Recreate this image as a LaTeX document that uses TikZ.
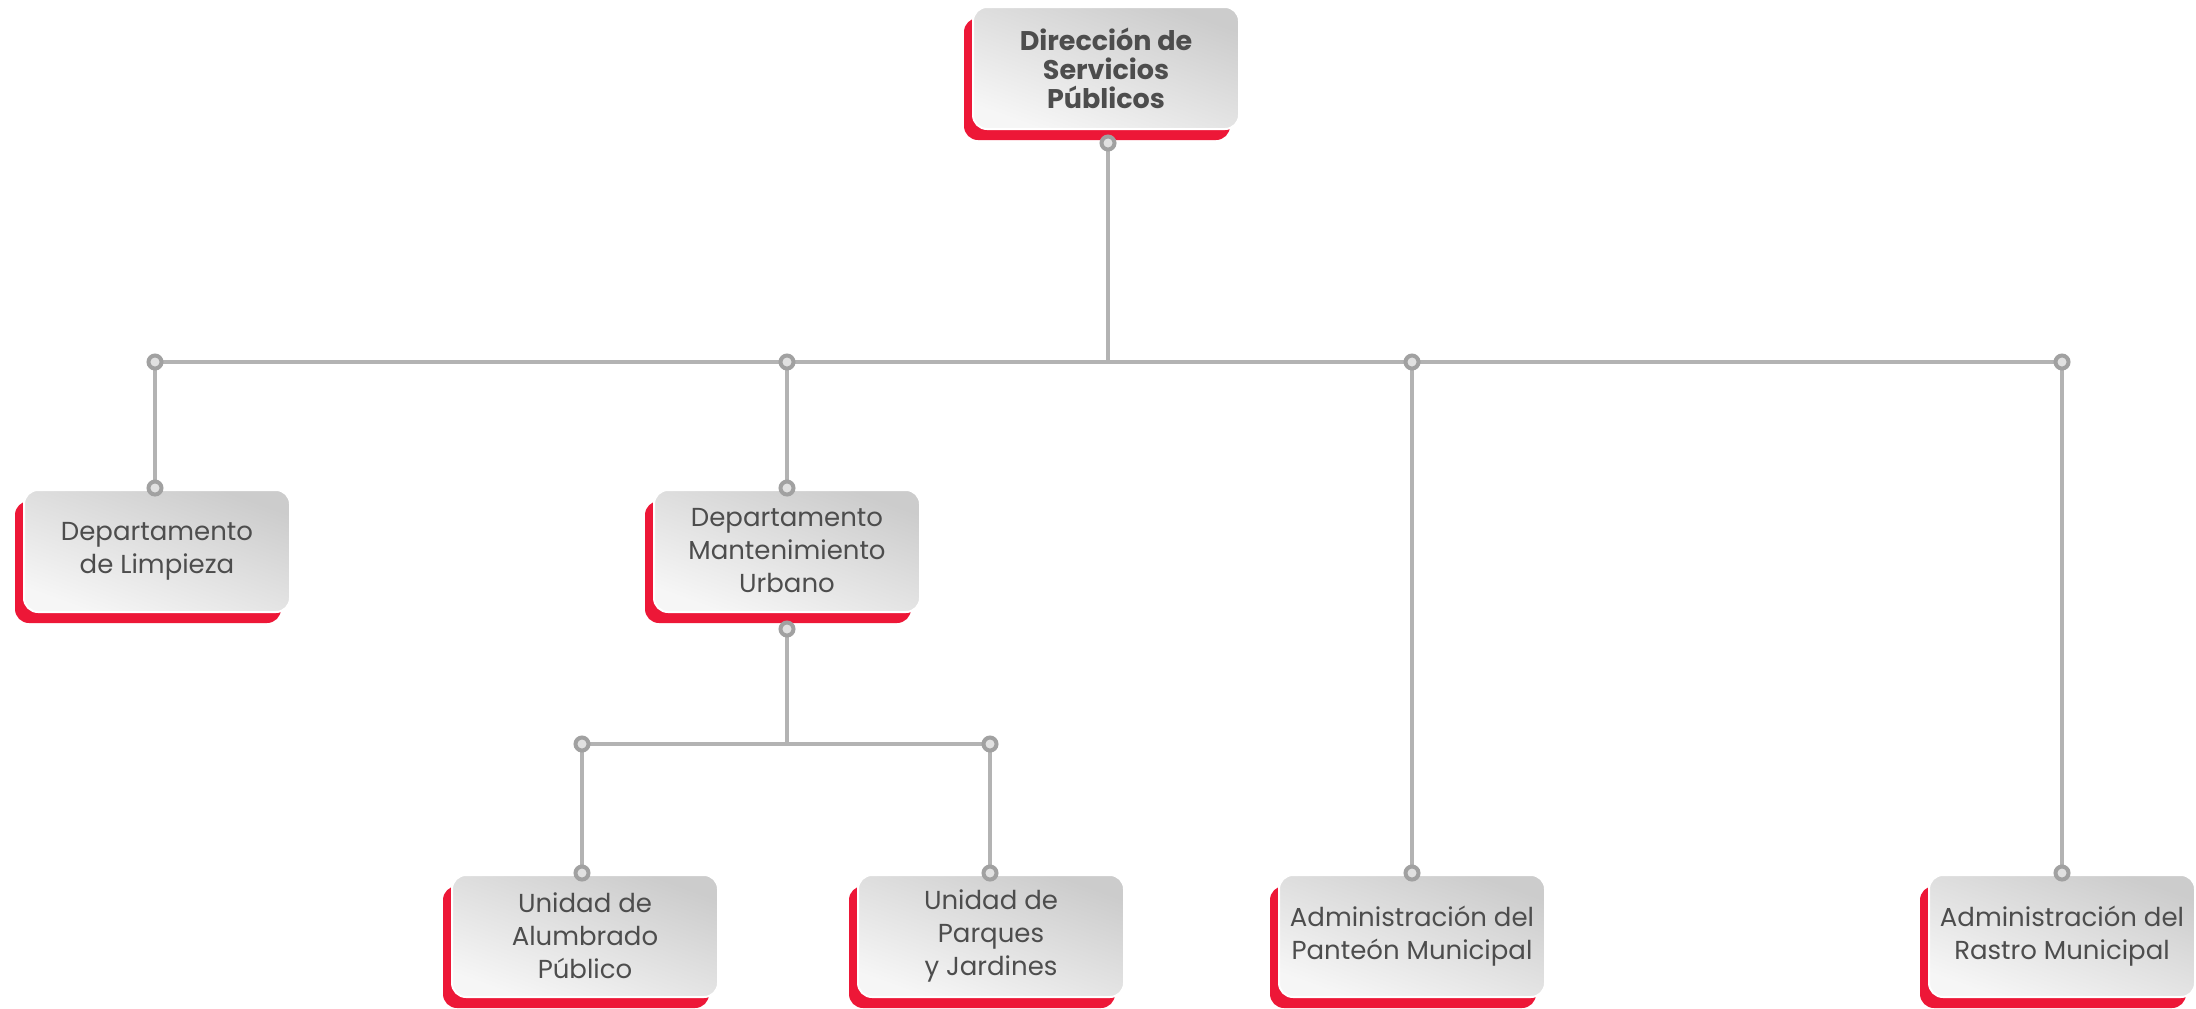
\documentclass[tikz,border=0pt]{standalone}
\usepackage{fontspec}
\setmainfont{Poppins}
\usepackage{tikz}
\usetikzlibrary{backgrounds,shadows}
\definecolor{rojo}{RGB}{237,23,55}
\definecolor{linea}{RGB}{179,179,179}
\definecolor{texto}{RGB}{77,77,77}
\definecolor{grisA}{RGB}{204,204,204}
\definecolor{grisB}{RGB}{246,246,246}

\tikzset{
unidad/.style={rectangle, rounded corners=7pt, minimum width=133pt, minimum height=61pt,
  top color=grisA, bottom color=grisB, shading angle=-20, draw=white, line width=1pt,
  general shadow={fill=rojo, shadow xshift=-4.5pt, shadow yshift=-5.5pt},
  align=center, text=texto, inner sep=0pt, font=\fontsize{13pt}{16.5pt}\selectfont},
jefe/.style={unidad, font=\fontsize{13.5pt}{14.5pt}\selectfont\bfseries},
union/.style={circle, draw=linea!90!black, line width=2pt, fill=linea!40, minimum size=6.5pt, inner sep=0pt},
conector/.style={draw=linea, line width=1.7pt}
}

\begin{document}
\begin{tikzpicture}[x=0.5pt,y=-0.5pt]
\useasboundingbox (0,0) rectangle (2196,1008);

\node[jefe] (dir) at (1106,68) {Dirección de\\Servicios\\Públicos};
\node[unidad] (limp) at (157,551) {Departamento\\de Limpieza};
\node[unidad] (mant) at (787,551) {Departamento\\Mantenimiento\\Urbano};
\node[unidad] (alum) at (585,936) {Unidad de\\Alumbrado\\Público};
\node[unidad] (parq) at (991,936) {Unidad de\\Parques\\y Jardines};
\node[unidad] (pant) at (1412,936) {Administración del\\Panteón Municipal};
\node[unidad] (rast) at (2062,936) {Administración del\\Rastro Municipal};

\node[union] (u0) at (1108,143) {};
\node[union] (ua) at (155,362) {};
\node[union] (ub) at (787,362) {};
\node[union] (uc) at (1412,362) {};
\node[union] (ud) at (2062,362) {};
\node[union] (ua2) at (155,488) {};
\node[union] (ub2) at (787,488) {};
\node[union] (ub3) at (787,629) {};
\node[union] (ue) at (582,744) {};
\node[union] (uf) at (990,744) {};
\node[union] (ue2) at (582,873) {};
\node[union] (uf2) at (990,873) {};
\node[union] (uc2) at (1412,873) {};
\node[union] (ud2) at (2062,873) {};

\begin{scope}[on background layer]
\draw[conector] (u0.center) -- (u0.center |- ua.center);
\draw[conector] (ua.center) -- (ud.center);
\draw[conector] (ua.center) -- (ua2.center);
\draw[conector] (ub.center) -- (ub2.center);
\draw[conector] (uc.center) -- (uc2.center);
\draw[conector] (ud.center) -- (ud2.center);
\draw[conector] (ub3.center) -- (ub3.center |- ue.center);
\draw[conector] (ue.center) -- (uf.center);
\draw[conector] (ue.center) -- (ue2.center);
\draw[conector] (uf.center) -- (uf2.center);
\end{scope}
\end{tikzpicture}
\end{document}
